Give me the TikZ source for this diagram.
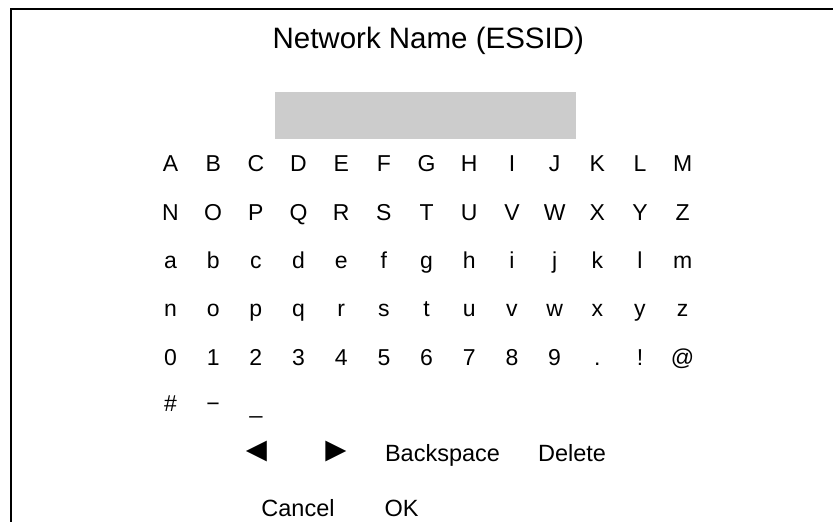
\documentclass[tikz,border=0pt]{standalone}
\usepackage{fontspec}
\setmainfont{Liberation Sans}
\definecolor{fieldgray}{HTML}{CCCCCC}
\begin{document}
\begin{tikzpicture}[x=1pt,y=-1pt,
  keytxt/.style={inner sep=0pt,anchor=base,font=\fontsize{23}{26}\selectfont},
  btntxt/.style={inner sep=0pt,anchor=base,font=\fontsize{23.5}{27}\selectfont},
  arrowtxt/.style={inner sep=0pt,anchor=base,font=\fontsize{35}{38}\selectfont},
  titletxt/.style={inner sep=0pt,anchor=base,font=\fontsize{29.5}{34}\selectfont},
  frameline/.style={line width=2pt,draw=black}]
\useasboundingbox (0,0) rectangle (833,522);
% frame (left and top edges)
\draw[frameline] (11,522) -- (11,9) -- (833,9);
% title
\node[titletxt] (title) at (428.3,48.3) {Network Name (ESSID)};
% input field
\fill[fieldgray] (275,91.7) rectangle (576,139);
% character grid
\foreach \c [count=\i from 0] in {A,B,C,D,E,F,G,H,I,J,K,L,M}
  \node[keytxt] (ra\i) at ({170.5+42.68*\i},171.7) {\c};
\foreach \c [count=\i from 0] in {N,O,P,Q,R,S,T,U,V,W,X,Y,Z}
  \node[keytxt] (rb\i) at ({170.5+42.68*\i},220) {\c};
\foreach \c [count=\i from 0] in {a,b,c,d,e,f,g,h,i,j,k,l,m}
  \node[keytxt] (rc\i) at ({170.5+42.68*\i},268.3) {\c};
\foreach \c [count=\i from 0] in {n,o,p,q,r,s,t,u,v,w,x,y,z}
  \node[keytxt] (rd\i) at ({170.5+42.68*\i},316.7) {\c};
\foreach \c [count=\i from 0] in {0,1,2,3,4,5,6,7,8,9,.,!,@}
  \node[keytxt] (re\i) at ({170.5+42.68*\i},365) {\c};
\node[keytxt] (rf0) at (170.5,411.7) {\#};
\node[keytxt] (rf1) at (213.2,411.7) {−};
\node[keytxt] (rf2) at (255.9,413.5) {\_};
% buttons
\node[arrowtxt] (left) at (256.5,461.7) {◄};
\node[arrowtxt] (right) at (336,461.7) {►};
\node[btntxt] (bksp) at (442.5,461.7) {Backspace};
\node[btntxt] (del) at (572,461.7) {Delete};
\node[btntxt] (cancel) at (298,516) {Cancel};
\node[btntxt] (ok) at (401.5,516) {OK};
\end{tikzpicture}
\end{document}
